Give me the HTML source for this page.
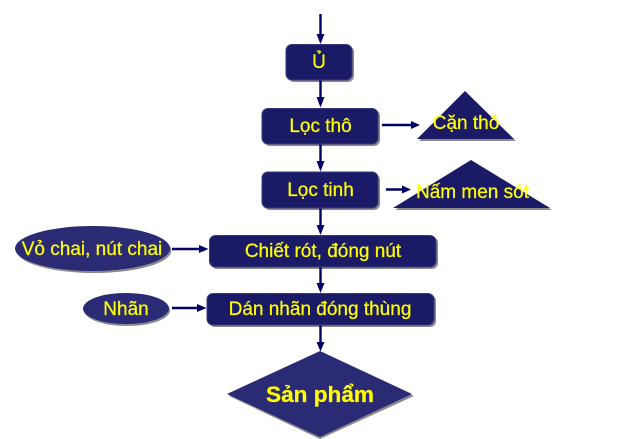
<!DOCTYPE html>
<html>
<head>
<meta charset="utf-8">
<style>
html,body{margin:0;padding:0;background:#fff;width:619px;height:439px;overflow:hidden}
svg{display:block}
text{font-family:"Liberation Sans",sans-serif;fill:#ffff00;font-size:19px;text-anchor:middle;stroke:#ffff00;stroke-width:.25px}
.s{fill:#8a8a8a}
.b{fill:#1a1a66;stroke:#3a3a80;stroke-width:1}
.p{fill:#2a2a75}
.l{stroke:#000066;stroke-width:2.4;fill:none}
.a{fill:#000066}
</style>
</head>
<body>
<svg width="619" height="439" viewBox="0 0 619 439" xmlns="http://www.w3.org/2000/svg">
<!-- shadows -->
<rect class="s" x="288" y="46" width="66" height="36" rx="6"/>
<rect class="s" x="264" y="110" width="116" height="36" rx="6"/>
<rect class="s" x="264" y="174" width="116" height="36" rx="6"/>
<rect class="s" x="211" y="237" width="227" height="32" rx="6"/>
<rect class="s" x="209" y="295" width="227" height="32" rx="6"/>
<ellipse class="s" cx="94" cy="250.500" rx="77.500" ry="22.500"/>
<ellipse class="s" cx="127" cy="310.500" rx="43" ry="15.500"/>
<path class="s" d="M465 93L516 141H419ZM471 162L552 210H395ZM320 353L414 396L320 439L229 396Z"/>
<!-- connectors -->
<path class="l" d="M320.500 14V36M320.500 78V100M320.500 142V164M320.500 206V227M320.500 265V285M320.500 323V344M382 125H414M386 189.500H408M172 249H200M172 308H198"/>
<path class="a" d="M316.500 34H324.500L320.500 44ZM316.500 97H324.500L320.500 107.500ZM316.500 161H324.500L320.500 171.500ZM316.500 225H324.500L320.500 235ZM316.500 283H324.500L320.500 293ZM316.500 342H324.500L320.500 351.500ZM411 121V129L420 125ZM402 185.500V193.500L411 189.500ZM199 245V253L208.500 249ZM197 304V312L206.500 308Z"/>
<!-- shapes -->
<rect class="b" x="286" y="44.500" width="66" height="35.500" rx="6"/>
<rect class="b" x="262" y="108.500" width="116" height="35.500" rx="6"/>
<rect class="b" x="262" y="172" width="116" height="36" rx="6"/>
<rect class="b" x="209.500" y="235.500" width="226.500" height="31.500" rx="6"/>
<rect class="b" x="207" y="293.500" width="227" height="31.500" rx="6"/>
<ellipse class="p" cx="92.500" cy="248.500" rx="77.500" ry="22.500"/>
<ellipse class="p" cx="126" cy="308.500" rx="43" ry="15.500"/>
<path class="b" style="stroke:none" d="M465 91L514 139H417ZM471 160L550 208H393Z"/>
<path class="p" d="M320 351L412 394L320 437L227 394Z"/>
<!-- labels -->
<text x="319" y="68">Ủ</text>
<text x="320.500" y="132">Lọc thô</text>
<text x="320.500" y="196">Lọc tinh</text>
<text x="466" y="129">Cặn thô</text>
<text x="472.500" y="198">Nấm men sót</text>
<text x="92" y="255">Vỏ chai, nút chai</text>
<text x="323" y="257">Chiết rót, đóng nút</text>
<text x="126" y="315">Nhãn</text>
<text x="320" y="315">Dán nhãn đóng thùng</text>
<text x="320" y="402" style="font-size:22.600px;font-weight:bold">Sản phẩm</text>
</svg>
</body>
</html>
